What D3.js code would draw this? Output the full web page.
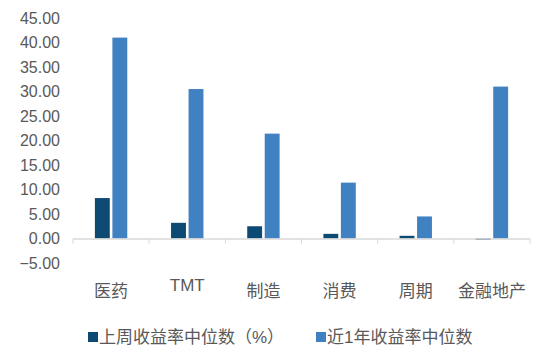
<!DOCTYPE html>
<html>
<head>
<meta charset="utf-8">
<script src="https://cdn.jsdelivr.net/npm/d3@7"></script>
<style>
  body { margin: 0; background: #fff; }
  text { font-family: "Liberation Sans", "Noto Sans CJK SC", sans-serif; fill: #595959; }
</style>
</head>
<body>
<div id="chart"></div>
<script>
// categories and series
var categories = ["医药", "TMT", "制造", "消费", "周期", "金融地产"];
var weekly = [8.25, 3.2, 2.5, 0.95, 0.55, -0.3];
var yearly = [41.0, 30.5, 21.4, 11.4, 4.5, 31.0];
var seriesNames = ["上周收益率中位数（%）", "近1年收益率中位数"];
var yTicks = [-5, 0, 5, 10, 15, 20, 25, 30, 35, 40, 45];

var colors = ["#0c4a73", "#4081c1"];

var width = 537, height = 354;
var margin = { top: 18, right: 7, bottom: 91, left: 73 };

var svg = d3.select("#chart").append("svg")
    .attr("width", width)
    .attr("height", height);

var x = d3.scaleBand()
    .domain(categories)
    .range([margin.left, width - margin.right]);

var inner = d3.scaleBand()
    .domain([0, 1])
    .range([0, x.bandwidth()])
    .paddingInner(0.15)
    .paddingOuter(1.25);

var y = d3.scaleLinear()
    .domain([-5, 45])
    .range([height - margin.bottom, margin.top]);

// y tick labels (no axis line)
var yAxis = d3.axisLeft(y)
    .tickValues(yTicks)
    .tickSize(0)
    .tickPadding(0)
    .tickFormat(d3.format(".2f"));

svg.append("g")
    .attr("transform", "translate(60,0)")
    .call(yAxis)
    .call(function(g) { g.select(".domain").remove(); })
    .selectAll("text")
    .style("font-size", "16px")
    .style("fill", "#595959");

// bars
var data = categories.map(function(c, i) { return { cat: c, vals: [weekly[i], yearly[i]] }; });

var groups = svg.selectAll(".grp")
    .data(data)
    .enter().append("g")
    .attr("class", "grp")
    .attr("transform", function(d) { return "translate(" + x(d.cat) + ",0)"; });

groups.selectAll("rect")
    .data(function(d) { return d.vals.map(function(v, k) { return { k: k, v: v }; }); })
    .enter().append("rect")
    .attr("x", function(d) { return inner(d.k); })
    .attr("width", inner.bandwidth())
    .attr("y", function(d) { return y(Math.max(0, d.v)); })
    .attr("height", function(d) { return Math.abs(y(d.v) - y(0)); })
    .attr("fill", function(d) { return colors[d.k]; });

// x axis line at zero with ticks at band edges
var xAxisG = svg.append("g").attr("class", "x-axis");
xAxisG.append("line")
    .attr("x1", margin.left)
    .attr("x2", width - margin.right)
    .attr("y1", y(0) + 0.5)
    .attr("y2", y(0) + 0.5)
    .attr("stroke", "#d9d9d9")
    .attr("stroke-width", 1.5);

var edges = categories.map(function(c) { return x(c); }).concat([x.range()[1]]);
xAxisG.selectAll(".tk")
    .data(edges)
    .enter().append("line")
    .attr("class", "tk")
    .attr("x1", function(d) { return d; })
    .attr("x2", function(d) { return d; })
    .attr("y1", y(0))
    .attr("y2", y(0) + 5)
    .attr("stroke", "#d9d9d9");

// category labels
svg.selectAll(".cat")
    .data(categories)
    .enter().append("text")
    .attr("class", "cat")
    .attr("x", function(d) { return x(d) + x.bandwidth() / 2; })
    .attr("y", function(d) { return d === "TMT" ? 291 : 297; })
    .attr("text-anchor", "middle")
    .style("font-size", "17px")
    .text(function(d) { return d; });

// legend
var legendX = [88, 316];
var legend = svg.selectAll(".leg")
    .data(seriesNames)
    .enter().append("g")
    .attr("class", "leg")
    .attr("transform", function(d, i) { return "translate(" + legendX[i] + ",332)"; });

legend.append("rect")
    .attr("width", 10)
    .attr("height", 10)
    .attr("y", 0)
    .attr("fill", function(d, i) { return colors[i]; });

legend.append("text")
    .attr("x", 11)
    .attr("y", 11)
    .style("font-size", "17px")
    .text(function(d) { return d; });
</script>
</body>
</html>
